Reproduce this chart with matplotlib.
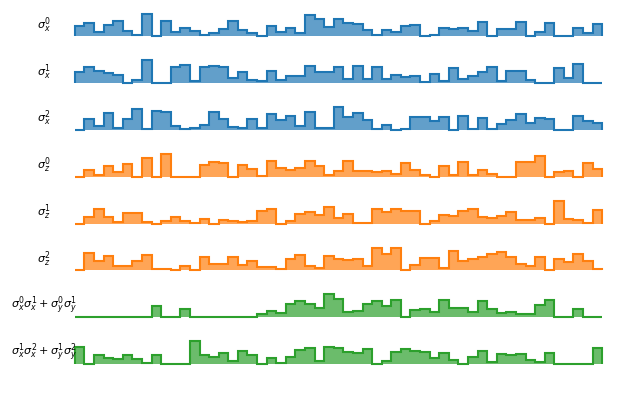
import matplotlib
matplotlib.use("Agg")
import matplotlib.pyplot as plt
import numpy as np

labels = [r"$\sigma_x^0$", r"$\sigma_x^1$", r"$\sigma_x^2$",
          r"$\sigma_z^0$", r"$\sigma_z^1$", r"$\sigma_z^2$",
          r"$\sigma_x^0\sigma_x^1 + \sigma_y^0\sigma_y^1$",
          r"$\sigma_x^1\sigma_x^2 + \sigma_y^1\sigma_y^2$"]
colors = ["tab:blue"] * 3 + ["tab:orange"] * 3 + ["tab:green"] * 2

sx0 = [0.46, 0.57, 0.18, 0.49, 0.69, 0.22, 0.06, 1.0, 0.03, 0.68, 0.18, 0.37, 0.22, 0.08,
       0.15, 0.31, 0.69, 0.29, 0.15, 0.03, 0.45, 0.18, 0.37, 0.15, 0.95, 0.77, 0.42, 0.75,
       0.57, 0.55, 0.29, 0.08, 0.26, 0.18, 0.45, 0.48, 0.0, 0.08, 0.38, 0.34, 0.37, 0.22,
       0.62, 0.03, 0.31, 0.33, 0.65, 0.03, 0.18, 0.6, 0.03, 0.03, 0.38, 0.14, 0.54]
sx1 = [0.47, 0.70, 0.55, 0.45, 0.34, 0.03, 0.16, 1.0, 0.0, 0.03, 0.73, 0.81, 0.08, 0.73,
       0.77, 0.73, 0.23, 0.47, 0.16, 0.11, 0.53, 0.16, 0.30, 0.31, 0.77, 0.5, 0.5, 0.70,
       0.19, 0.77, 0.19, 0.73, 0.19, 0.34, 0.27, 0.31, 0.06, 0.42, 0.08, 0.66, 0.19, 0.31,
       0.5, 0.70, 0.11, 0.55, 0.55, 0.16, 0.03, 0.03, 0.66, 0.22, 0.84, 0.0, 0.0]
sx2 = [0.0, 0.48, 0.16, 0.73, 0.08, 0.47, 0.92, 0.03, 0.84, 0.81, 0.19, 0.03, 0.08, 0.23,
       0.79, 0.47, 0.15, 0.08, 0.48, 0.11, 0.71, 0.44, 0.63, 0.19, 0.81, 0.08, 0.08, 1.0,
       0.55, 0.73, 0.45, 0.03, 0.22, 0.0, 0.06, 0.58, 0.55, 0.38, 0.58, 0.0, 0.63, 0.06,
       0.53, 0.06, 0.27, 0.45, 0.70, 0.30, 0.53, 0.5, 0.0, 0.0, 0.61, 0.38, 0.31]
sz0 = [0.0, 0.32, 0.08, 0.47, 0.23, 0.55, 0.0, 0.84, 0.0, 1.0, 0.0, 0.0, 0.0, 0.52,
       0.63, 0.6, 0.0, 0.52, 0.35, 0.03, 0.68, 0.40, 0.32, 0.39, 0.68, 0.48, 0.08, 0.24,
       0.68, 0.24, 0.27, 0.23, 0.27, 0.11, 0.6, 0.32, 0.08, 0.0, 0.48, 0.08, 0.63, 0.08,
       0.32, 0.11, 0.0, 0.0, 0.63, 0.63, 0.89, 0.0, 0.23, 0.27, 0.0, 0.6, 0.35]
sz1 = [0.0, 0.31, 0.62, 0.31, 0.08, 0.46, 0.46, 0.08, 0.0, 0.12, 0.28, 0.12, 0.03, 0.22,
       0.0, 0.14, 0.11, 0.05, 0.11, 0.57, 0.62, 0.0, 0.11, 0.43, 0.49, 0.38, 0.74, 0.26,
       0.42, 0.03, 0.03, 0.62, 0.49, 0.66, 0.57, 0.57, 0.0, 0.11, 0.38, 0.34, 0.54, 0.62,
       0.31, 0.23, 0.35, 0.51, 0.15, 0.15, 0.26, 0.0, 1.0, 0.2, 0.15, 0.03, 0.58]
sz2 = [0.0, 0.78, 0.40, 0.63, 0.18, 0.18, 0.40, 0.66, 0.07, 0.07, 0.0, 0.18, 0.03, 0.58,
       0.28, 0.28, 0.58, 0.22, 0.43, 0.15, 0.15, 0.07, 0.52, 0.67, 0.21, 0.10, 0.63, 0.51,
       0.45, 0.48, 0.18, 0.97, 0.70, 1.0, 0.0, 0.25, 0.55, 0.55, 0.10, 0.85, 0.43, 0.52,
       0.58, 0.73, 0.82, 0.60, 0.30, 0.21, 0.60, 0.0, 0.48, 0.36, 0.70, 0.43, 0.06]
xy01 = [0.0, 0.0, 0.0, 0.0, 0.0, 0.0, 0.0, 0.0, 0.49, 0.0, 0.0, 0.38, 0.0, 0.0,
        0.0, 0.0, 0.0, 0.0, 0.0, 0.15, 0.29, 0.18, 0.57, 0.72, 0.57, 0.42, 1.0, 0.8,
        0.22, 0.26, 0.6, 0.72, 0.49, 0.75, 0.03, 0.31, 0.38, 0.22, 0.75, 0.42, 0.42, 0.22,
        0.69, 0.38, 0.18, 0.22, 0.15, 0.15, 0.54, 0.75, 0.0, 0.0, 0.37, 0.0, 0.0]
xy12 = [0.75, 0.0, 0.37, 0.26, 0.22, 0.38, 0.23, 0.06, 0.37, 0.0, 0.0, 0.0, 0.98, 0.37,
        0.31, 0.49, 0.14, 0.57, 0.38, 0.0, 0.26, 0.06, 0.31, 0.6, 0.69, 0.15, 0.72, 0.68,
        0.52, 0.46, 0.65, 0.0, 0.14, 0.52, 0.65, 0.57, 0.52, 0.26, 0.49, 0.18, 0.0, 0.31,
        0.54, 0.08, 0.42, 0.38, 0.42, 0.18, 0.08, 0.46, 0.0, 0.0, 0.0, 0.0, 0.68]

series = [sx0, sx1, sx2, sz0, sz1, sz2, xy01, xy12]

fig, axes = plt.subplots(8, 1, figsize=(6.4, 4), dpi=100, sharex=True)
fig.subplots_adjust(left=0.117, right=0.941, top=0.966, bottom=0.09, hspace=1.05)

for ax, vals, lbl, c in zip(axes, series, labels, colors):
    vals = np.array(vals)
    edges = np.arange(len(vals) + 1)
    ax.stairs(vals, edges, fill=True, color=c, alpha=0.7, linewidth=0)
    ax.stairs(vals, edges, color=c, linewidth=1.5, clip_on=False)
    ax.set_xlim(0, len(vals))
    ax.set_ylim(0, vals.max())
    ax.set_xticks([])
    ax.set_yticks([])
    for s in ax.spines.values():
        s.set_visible(False)
    ax.set_ylabel(lbl, rotation=0, fontsize=8, va="center", ha="center", labelpad=22)

fig.savefig("out.png")
